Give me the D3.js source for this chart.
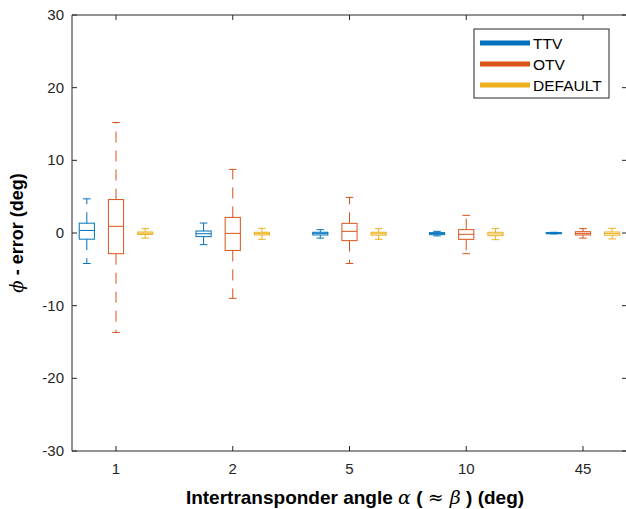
<!DOCTYPE html>
<html>
<head>
<meta charset="utf-8">
<script src="https://cdn.jsdelivr.net/npm/d3@7"></script>
<style>
  body { margin: 0; background: #fff; }
  svg { display: block; font-family: "Liberation Sans", Arial, Helvetica, sans-serif; }
  .tick-label { font-size: 15px; fill: #262626; }
  .axis-title { font-size: 19px; font-weight: bold; fill: #000; }
  .y-title { font-size: 18px; }
  .legend-text { font-size: 15.5px; fill: #000; }
</style>
</head>
<body>
<div id="chart"></div>
<script>
// Categorias del eje x
const categories = ["1", "2", "5", "10", "45"];
const yTicks = [-30, -20, -10, 0, 10, 20, 30];
const seriesNames = ["TTV", "OTV", "DEFAULT"];
const seriesColors = ["#0072BD", "#D95319", "#EDB120"];

// [bigote inferior, q1, mediana, q3, bigote superior]
const ttvStats = [
  [-4.2, -0.85, 0.35, 1.35, 4.7],
  [-1.6, -0.5, -0.1, 0.27, 1.37],
  [-0.7, -0.27, -0.05, 0.1, 0.46],
  [-0.4, -0.23, -0.08, 0.05, 0.23],
  [-0.12, -0.1, -0.02, 0.05, 0.1]
];
const otvStats = [
  [-13.7, -2.85, 0.92, 4.6, 15.2],
  [-9.0, -2.4, -0.05, 2.15, 8.75],
  [-4.2, -1.05, 0.23, 1.33, 4.9],
  [-2.85, -0.87, -0.18, 0.46, 2.43],
  [-0.7, -0.27, -0.05, 0.18, 0.6]
];
const defaultStats = [
  [-0.7, -0.2, -0.03, 0.14, 0.6],
  [-0.87, -0.27, -0.08, 0.1, 0.64],
  [-0.87, -0.3, -0.1, 0.1, 0.6],
  [-0.92, -0.37, -0.13, 0.1, 0.6],
  [-0.82, -0.3, -0.08, 0.14, 0.64]
];

const allStats = [ttvStats, otvStats, defaultStats];

const width = 626, height = 509;
const plot = { left: 72, right: 627, top: 15, bottom: 451 };
const groupOffsets = [-0.25, 0, 0.25];
const boxWidth = 0.13;
const axisColor = "#262626";

const svg = d3.select("#chart").append("svg")
  .attr("width", width)
  .attr("height", height);

svg.append("rect").attr("width", width).attr("height", height).attr("fill", "#fff");

const x = d3.scaleLinear().domain([0.623, 5.377]).range([plot.left, plot.right]);
const y = d3.scaleLinear().domain([-30, 30]).range([plot.bottom, plot.top]);

// Cajas
allStats.forEach((stats, s) => {
  const color = seriesColors[s];
  const g = svg.append("g").attr("class", "series-" + s)
    .attr("stroke", color).attr("fill", "none").attr("stroke-width", 1);

  stats.forEach((d, i) => {
    const cx = x(i + 1 + groupOffsets[s]);
    const halfW = (x(boxWidth) - x(0)) / 2;
    const [lo, q1, med, q3, hi] = d;

    // bigotes (discontinuos, desde la caja hacia fuera)
    g.append("line")
      .attr("x1", cx).attr("x2", cx)
      .attr("y1", y(q3)).attr("y2", y(hi))
      .attr("stroke-dasharray", "11,8");
    g.append("line")
      .attr("x1", cx).attr("x2", cx)
      .attr("y1", y(q1)).attr("y2", y(lo))
      .attr("stroke-dasharray", "11,8");

    // topes
    g.append("line")
      .attr("x1", cx - halfW / 2).attr("x2", cx + halfW / 2)
      .attr("y1", y(hi)).attr("y2", y(hi));
    g.append("line")
      .attr("x1", cx - halfW / 2).attr("x2", cx + halfW / 2)
      .attr("y1", y(lo)).attr("y2", y(lo));

    // caja
    g.append("rect")
      .attr("x", cx - halfW)
      .attr("y", y(q3))
      .attr("width", halfW * 2)
      .attr("height", Math.max(y(q1) - y(q3), 0.5));

    // mediana
    g.append("line")
      .attr("x1", cx - halfW).attr("x2", cx + halfW)
      .attr("y1", y(med)).attr("y2", y(med));
  });
});

// Ejes
const axes = svg.append("g").attr("stroke", axisColor).attr("stroke-width", 1).attr("fill", "none");
axes.append("path")
  .attr("d", `M${plot.left},${plot.top}H${plot.right}V${plot.bottom}H${plot.left}Z`);

const tickLen = 5;
categories.forEach((c, i) => {
  const px = x(i + 1);
  axes.append("line").attr("x1", px).attr("x2", px).attr("y1", plot.bottom).attr("y2", plot.bottom - tickLen);
  axes.append("line").attr("x1", px).attr("x2", px).attr("y1", plot.top).attr("y2", plot.top + tickLen);
  svg.append("text").attr("class", "tick-label")
    .attr("x", px).attr("y", plot.bottom + 23)
    .attr("text-anchor", "middle")
    .text(c);
});

yTicks.forEach(t => {
  const py = y(t);
  axes.append("line").attr("x1", plot.left).attr("x2", plot.left + tickLen).attr("y1", py).attr("y2", py);
  axes.append("line").attr("x1", plot.right).attr("x2", plot.right - tickLen).attr("y1", py).attr("y2", py);
  svg.append("text").attr("class", "tick-label")
    .attr("x", plot.left - 8).attr("y", py + 5)
    .attr("text-anchor", "end")
    .text(t);
});

// Titulos de ejes
const mathFont = "DejaVu Serif, serif";
const xTitle = svg.append("text").attr("class", "axis-title")
  .attr("x", 355).attr("y", 504)
  .attr("text-anchor", "middle");
xTitle.append("tspan").text("Intertransponder angle ");
xTitle.append("tspan").attr("font-family", mathFont).attr("font-style", "italic").attr("font-weight", "normal").text("α");
xTitle.append("tspan").text(" (  ");
xTitle.append("tspan").attr("font-family", mathFont).attr("font-weight", "normal").text("≈ ");
xTitle.append("tspan").attr("font-family", mathFont).attr("font-style", "italic").attr("font-weight", "normal").text("β");
xTitle.append("tspan").text(" ) (deg)");

const yTitle = svg.append("text").attr("class", "axis-title y-title")
  .attr("transform", `translate(23,${(plot.top + plot.bottom) / 2}) rotate(-90)`)
  .attr("text-anchor", "middle");
yTitle.append("tspan").attr("font-family", mathFont).attr("font-style", "italic").attr("font-weight", "normal").text("ϕ");
yTitle.append("tspan").text(" - error (deg)");

// Leyenda
const legend = svg.append("g").attr("transform", "translate(474,29)");
legend.append("rect")
  .attr("width", 135).attr("height", 69)
  .attr("fill", "#fff").attr("stroke", axisColor).attr("stroke-width", 1);
seriesNames.forEach((name, i) => {
  const ly = 14 + i * 21;
  legend.append("line")
    .attr("x1", 6).attr("x2", 56)
    .attr("y1", ly).attr("y2", ly)
    .attr("stroke", seriesColors[i]).attr("stroke-width", 5);
  legend.append("text").attr("class", "legend-text")
    .attr("x", 59).attr("y", ly + 5.5)
    .text(name);
});
</script>
</body>
</html>
